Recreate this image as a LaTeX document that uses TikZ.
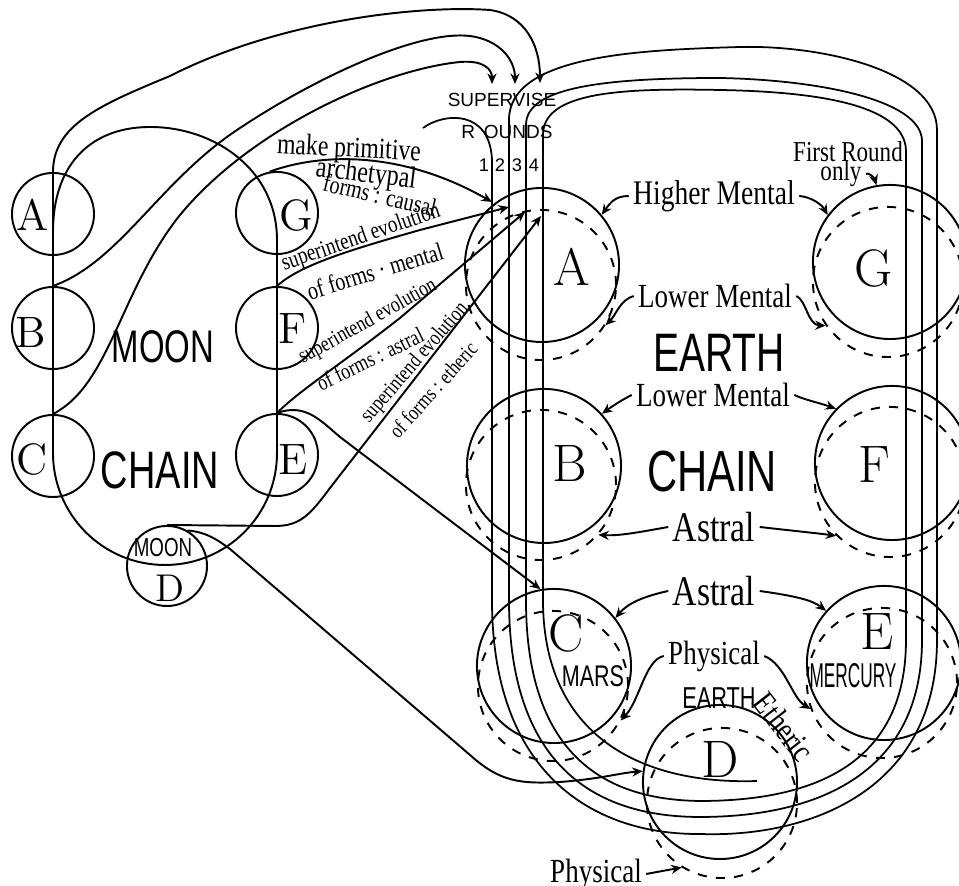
\documentclass[tikz,border=0pt]{standalone}
\usepackage{fontspec}
\usetikzlibrary{arrows.meta}
\newfontfamily\handfont[FakeStretch=0.8]{Liberation Serif}
\newfontfamily\capsfont[FakeStretch=0.72]{Liberation Sans}
\newfontfamily\narrowfont[FakeStretch=0.5]{Liberation Sans}
\newfontfamily\plainsans{Liberation Sans}

\begin{document}
\begin{tikzpicture}[
    x=0.01cm, y=-0.01cm, line width=0.55pt,
    moonball/.style={draw, circle, minimum size=0.82cm, inner sep=0pt},
    globe/.style={draw, circle, minimum size=1.54cm, inner sep=0pt},
    shade/.style={draw, circle, dash pattern=on 2.6pt off 2.6pt, minimum size=1.5cm, inner sep=0pt},
    bigletter/.style={font=\fontsize{15}{15}\selectfont, inner sep=0pt},
    letter/.style={font=\fontsize{12.5}{12.5}\selectfont, inner sep=0pt},
    caps/.style={font=\capsfont\fontsize{#1}{#1}\selectfont, inner sep=0pt},
    hand/.style={font=\handfont\fontsize{#1}{#1}\selectfont, inner sep=1pt},
    tiny/.style={font=\plainsans\fontsize{#1}{#1}\selectfont, inner sep=0pt},
    arr/.style={-{Stealth[length=3pt, width=2.6pt]}},
    spiral/.style={line width=0.5pt}
]
\useasboundingbox (0,0) rectangle (959,886);

\node[moonball] (moonA) at (53,214) {};
\node[moonball] (moonB) at (53,328) {};
\node[moonball] (moonC) at (53,456) {};
\node[moonball] (moonG) at (277,213) {};
\node[moonball] (moonF) at (277,328) {};
\node[moonball] (moonE) at (277,455) {};
\node[moonball, minimum size=0.8cm] (moonD) at (167,566) {};
\node[letter] (ltrmA) at (33,215) {A};
\node[letter] (ltrmB) at (31,333) {B};
\node[letter] (ltrmC) at (32,460) {C};
\node[letter] (ltrmG) at (296,216) {G};
\node[letter] (ltrmF) at (293,329) {F};
\node[letter] (ltrmE) at (293,460) {E};
\node[caps=7.4] (moonsmall) at (163,548) {MOON};
\node[font=\fontsize{11}{11}\selectfont, inner sep=0pt] (ltrmD) at (170,588) {D};
\node[caps=13] (moonname) at (163,347) {MOON};
\node[caps=15] (chainleft) at (160,470) {CHAIN};

\draw (moonA.north) -- (53,453) .. controls (53,515) and (103,565) .. (165,565)
    .. controls (227,565) and (277,515) .. (277,453) -- (277,240)
    .. controls (277,170) and (215,127) .. (150,127) .. controls (95,127) and (53,160) .. (53,232);

\node[globe] (earthA) at (542,265) {};
\node[globe] (earthG) at (890,262) {};
\node[globe] (earthB) at (544,466) {};
\node[globe] (earthF) at (892,463) {};
\node[globe] (earthC) at (554,666) {};
\node[globe] (earthE) at (884,663) {};
\node[globe] (earthD) at (720,782) {};
\node[shade] (shadeA) at (541,285) {};
\node[shade] (shadeG) at (888,282) {};
\node[shade] (shadeB) at (541,485) {};
\node[shade] (shadeF) at (890,482) {};
\node[shade] (shadeC) at (553,686) {};
\node[shade] (shadeE) at (882,683) {};
\node[shade] (shadeD) at (722,803) {};
\node[bigletter] (ltreA) at (572,267) {A};
\node[bigletter] (ltreG) at (874,269) {G};
\node[bigletter] (ltreB) at (570,464) {B};
\node[bigletter] (ltreF) at (874,465) {F};
\node[bigletter] (ltreC) at (566,634) {C};
\node[bigletter] (ltreE) at (877,632) {E};
\node[bigletter] (ltreD) at (720,760) {D};
\node[caps=8.5] (mars) at (593,676) {MARS};
\node[font=\narrowfont\fontsize{9.8}{9.8}\selectfont, inner sep=0pt] (mercury) at (853,676) {MERCURY};

\draw[spiral] (423,128) .. controls (445,112) and (490,110) .. (492,160)
    -- (492,600) .. controls (492,780) and (600,835) .. (700,834)
    .. controls (810,838) and (937,790) .. (937,640)
    -- (937,130) .. controls (937,70) and (820,45) .. (740,47)
    .. controls (640,50) and (509,55) .. (509,120)
    -- (509,600) .. controls (509,775) and (605,817) .. (700,817)
    .. controls (815,817) and (922,775) .. (922,640)
    -- (922,140) .. controls (920,100) and (820,80) .. (720,78)
    .. controls (600,78) and (526,88) .. (526,125)
    -- (526,600) .. controls (526,760) and (610,800) .. (700,801)
    .. controls (820,801) and (906,760) .. (906,640)
    -- (906,150) .. controls (904,108) and (830,92) .. (720,90)
    .. controls (620,88) and (543,92) .. (543,135)
    -- (543,600) .. controls (543,735) and (640,785) .. (757,781);

\node[tiny=5.4] (supervise) at (502,100) {SUPERVISE};
\node[tiny=5.4] (rounds) at (507,132) {R\hspace{2.5pt}OUNDS};
\node[tiny=5.2] (num1) at (484,165) {1};
\node[tiny=5.2] (num2) at (500,165) {2};
\node[tiny=5.2] (num3) at (517,165) {3};
\node[tiny=5.2] (num4) at (534,165) {4};
\coordinate (sup1) at (492,84);
\coordinate (sup2) at (515,84);
\coordinate (sup3) at (540,83);
\coordinate (aim1) at (492,202);
\coordinate (aim2) at (509,207);
\coordinate (aim3) at (525,212);
\coordinate (aim4) at (541,216);

\draw[arr] (moonA.north) .. controls (53,125) and (100,105) .. (170,76)
    .. controls (280,20) and (420,5) .. (490,10) .. controls (525,15) and (540,45) .. (sup3);
\draw[arr] (moonB.north) .. controls (120,262) and (160,180) .. (240,128)
    .. controls (320,75) and (420,30) .. (470,36) .. controls (500,40) and (515,60) .. (sup2);
\draw[arr] (moonC.north) .. controls (110,385) and (120,290) .. (180,215)
    .. controls (250,130) and (380,70) .. (460,62) .. controls (485,60) and (492,70) .. (sup1);

\draw[arr] (moonG.100) .. controls (330,150) and (410,155) .. (aim1);
\draw[arr] (moonF.north) .. controls (300,265) and (350,250) .. (420,230) -- (aim2);
\draw[arr] (moonE.north) .. controls (300,390) and (340,365) .. (400,318) -- (aim3);
\draw[arr] (moonD.north) -- (275,526) .. controls (300,526) and (310,515) .. (330,488) -- (aim4);
\draw[arr] (moonE.north) .. controls (305,403) and (320,420) .. (340,437) -- (earthC.100);
\draw[arr] (moonD.60) .. controls (205,532) and (215,538) .. (230,549) -- (470,755)
    .. controls (500,782) and (520,784) .. (560,782) .. controls (600,779) and (620,773) .. (earthD.172);

\node[hand=8.4, rotate=-3] (makeprim) at (349,150) {make primitive};
\node[hand=8.6, rotate=-7] (archetypal) at (366,175) {archetypal};
\node[hand=7.2, rotate=-13] (causal) at (380,195) {forms : causal};
\node[hand=6.8, rotate=19] (supmental) at (361,238) {superintend evolution};
\node[hand=7.2, rotate=17] (ofmental) at (375,271) {of forms · mental};
\node[hand=6.3, rotate=29] (supastral) at (368,322) {superintend evolution};
\node[hand=6.4, rotate=26] (ofastral) at (370,359) {of forms : astral};
\node[hand=6.2, rotate=49] (supetheric) at (415,363) {superintend evolution};
\node[hand=6.1, rotate=48] (ofetheric) at (433,390) {of forms : etheric};

\node[hand=9.8] (higher) at (714,196) {Higher Mental};
\node[hand=9.6] (lowerup) at (715,296) {Lower Mental};
\node[caps=15.4] (earthname) at (719,353) {EARTH};
\node[hand=9.6] (lowerlow) at (713,395) {Lower Mental};
\node[caps=16.5] (chainright) at (712,472) {CHAIN};
\node[hand=12] (astralup) at (714,527) {Astral};
\node[hand=12] (astrallow) at (714,591) {Astral};
\node[hand=9.6] (physmid) at (714,656) {Physical};
\node[caps=8.6] (earthsmall) at (719,698) {EARTH};
\node[hand=9.6] (physbot) at (596,874) {Physical};
\node[hand=9.4, rotate=-52] (etheric) at (784,727) {Etheric};
\node[hand=8.2] (firstround) at (848,152) {First Round};
\node[hand=8.2] (only) at (841,174) {only};

\draw[arr] (higher.west) .. controls (615,196) and (610,203) .. (earthA.40);
\draw[arr] (higher.east) .. controls (812,197) and (822,205) .. (earthG.143);
\draw[arr] (lowerup.west) .. controls (620,300) and (616,315) .. (shadeA.-32);
\draw[arr] (lowerup.east) .. controls (806,300) and (808,325) .. (shadeG.215);
\draw[arr] (lowerlow.west) .. controls (622,400) and (614,405) .. (earthB.42);
\draw[arr] (lowerlow.east) .. controls (805,400) and (820,403) .. (earthF.136);
\draw[arr] (astralup.west) .. controls (640,532) and (620,536) .. (shadeB.-41);
\draw[arr] (astralup.east) .. controls (795,531) and (815,533) .. (shadeF.225);
\draw[arr] (astrallow.west) .. controls (645,596) and (628,603) .. (earthC.38);
\draw[arr] (astrallow.east) .. controls (795,596) and (812,600) .. (earthE.138);
\draw[arr] (physmid.west) .. controls (645,660) and (640,700) .. (shadeC.-27);
\draw[arr] (physmid.east) .. controls (785,664) and (792,698) .. (shadeE.200);
\draw[arr] (physbot.east) -- (shadeD.238);
\draw[arr] (only.east) .. controls (868,172) and (874,177) .. (earthG.100);
\end{tikzpicture}
\end{document}
